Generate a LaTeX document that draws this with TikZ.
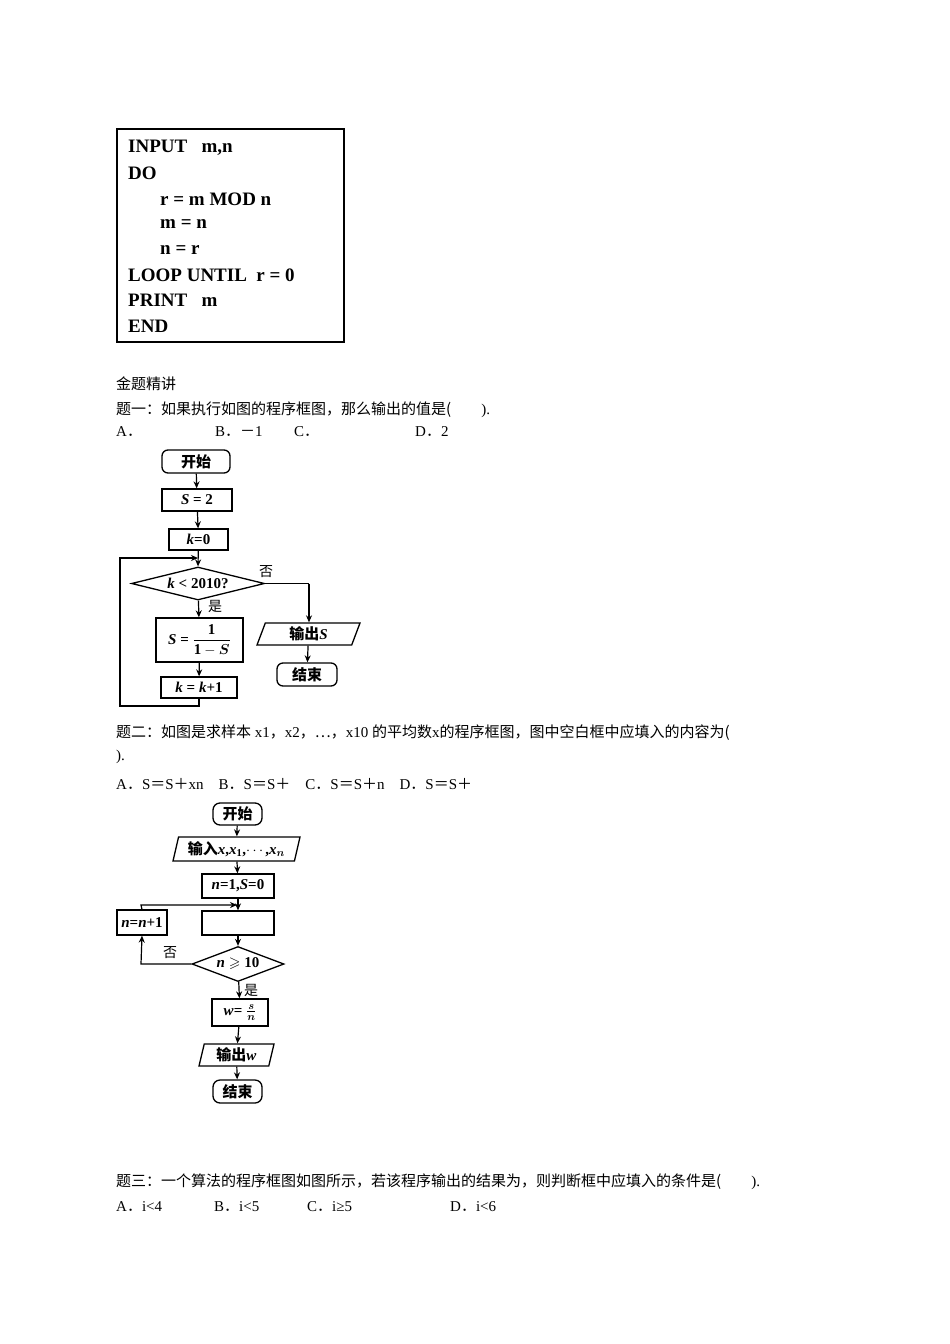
\documentclass[tikz,border=0pt]{standalone}
\usepackage{amsmath,amssymb,bm}
\usepackage{fontspec}
\setmainfont{Liberation Serif}
\newfontfamily\cjk{Noto Sans CJK SC}
\newcommand{\cj}[1]{{\cjk #1}}
\usetikzlibrary{shapes.geometric,arrows.meta}
\begin{document}
\begin{tikzpicture}[x=1pt,y=-1pt,
  txt/.style={anchor=west,inner sep=0pt,font=\fontsize{15}{18}\selectfont},
  code/.style={anchor=west,inner sep=0pt,font=\fontsize{19}{22}\selectfont\bfseries},
  fc/.style={draw,line width=1.3pt,inner sep=0pt,font=\fontsize{15}{18}\selectfont\bfseries},
  ar/.style={line width=1.2pt,-{Stealth[length=7pt,width=6pt]}},
  ln/.style={line width=1.2pt}]
\useasboundingbox (0,0) rectangle (950,1344);
% code box
\draw[line width=2.5pt] (117,129) rectangle (344,342);
\node[code] (c1) at (128,148) {INPUT\ \ \ m,n};
\node[code] (c2) at (128,173) {DO};
\node[code] (c3) at (160,199) {r = m MOD n};
\node[code] (c4) at (160,224) {m = n};
\node[code] (c5) at (160,250) {n = r};
\node[code] (c6) at (128,275) {LOOP UNTIL\ \ r = 0};
\node[code] (c7) at (128,300) {PRINT\ \ \ m};
\node[code] (c8) at (128,326) {END};
% texts
\node[txt] (t1) at (116,384) {\cj{金题精讲}};
\node[txt] (t2) at (116,410) {\cj{题一：如果执行如图的程序框图，那么输出的值是(}\qquad ).};
\node[txt] (t3a) at (116,432) {A\cj{．}};
\node[txt] (t3b) at (215,432) {B\cj{．－}1};
\node[txt] (t3c) at (294,432) {C\cj{．}};
\node[txt] (t3d) at (415,432) {D\cj{．}2};
% flowchart 1
\node[fc,rounded corners=6pt,minimum width=68pt,minimum height=23pt] (s1) at (196,461.5) {\cj{开始}};
\node[fc,minimum width=70pt,minimum height=22pt] (a1) at (197,500) {\textit{S} = 2};
\node[fc,minimum width=59pt,minimum height=21pt] (b1) at (198.5,539.5) {\textit{k}=0};
\coordinate (m1) at (198,558);
\node[fc,diamond,aspect=4,minimum width=133pt,minimum height=33pt] (d1) at (198,583.5) {\textit{k} < 2010?};
\node[fc,minimum width=87pt,minimum height=44pt] (e1) at (199.5,640) {\textit{S} = $\dfrac{\mathbf{1}}{\mathbf{1}-\bm{S}}$};
\node[fc,minimum width=76pt,minimum height=21pt] (f1) at (199,687.5) {\textit{k} = \textit{k}+1};
\node[fc,trapezium,trapezium left angle=60,trapezium right angle=120,minimum width=103pt,minimum height=22pt,trapezium stretches body] (o1) at (308.5,634) {\cj{输出}\textit{S}};
\node[fc,rounded corners=6pt,minimum width=60pt,minimum height=23pt] (z1) at (307,674.5) {\cj{结束}};
\coordinate (r1) at (309,583.5);
\coordinate (lb) at (199,706);
\coordinate (lbl) at (120,706);
\coordinate (ltl) at (120,558);
\draw[ar] (s1) -- (a1);
\draw[ar] (a1) -- (b1);
\draw[ar] (b1) -- (d1.north);
\draw[ar] (d1) -- (e1);
\draw[ar] (e1) -- (f1);
\draw[ln] (d1.east) -- (r1);
\draw[ar] (r1) -- (r1 |- o1.north);
\draw[ar] (o1) -- (z1);
\draw[ar] (f1.south) -- (lb) -- (lbl) -- (ltl) -- (m1);
\node[inner sep=0pt,font=\fontsize{14}{16}\selectfont\cjk] (no1) at (266,572) {否};
\node[inner sep=0pt,font=\fontsize{14}{16}\selectfont\cjk] (ye1) at (215,606) {是};
% text 2
\node[txt] (u1) at (116,733) {\cj{题二：如图是求样本} x1\cj{，}x2\cj{，…，}x10 \cj{的平均数}x\cj{的程序框图，图中空白框中应填入的内容为(}};
\node[txt] (u2) at (116,757) {).};
\node[txt] (u3) at (116,784) {A\cj{．}S\cj{＝}S\cj{＋}xn\quad B\cj{．}S\cj{＝}S\cj{＋}\quad C\cj{．}S\cj{＝}S\cj{＋}n\quad D\cj{．}S\cj{＝}S\cj{＋}};
% flowchart 2
\node[fc,rounded corners=7pt,minimum width=49pt,minimum height=22pt] (s2) at (237.5,814) {\cj{开始}};
\node[fc,trapezium,trapezium left angle=70,trapezium right angle=110,minimum width=127pt,minimum height=24pt,trapezium stretches body] (i2) at (236.5,849) {\cj{输入}\textit{x},\textit{x}$_{\mathbf 1}$,$\cdots$,\textit{x}$_{\bm n}$};
\node[fc,minimum width=72pt,minimum height=24pt] (a2) at (238,886) {\textit{n}=1,\textit{S}=0};
\coordinate (m2) at (237,905);
\node[fc,minimum width=72pt,minimum height=24pt] (b2) at (238,923) {};
\node[fc,diamond,aspect=2.6,minimum width=92pt,minimum height=35pt] (d2) at (238,964) {\textit{n} $\geqslant$ 10};
\node[fc,minimum width=50pt,minimum height=25pt] (n2) at (142,922.5) {\textit{n}=\textit{n}+1};
\node[fc,minimum width=56pt,minimum height=27pt] (w2) at (240,1012.5) {\textit{w}= $\frac{\bm s}{\bm n}$};
\node[fc,trapezium,trapezium left angle=70,trapezium right angle=110,minimum width=75pt,minimum height=22pt,trapezium stretches body] (o2) at (236.5,1055) {\cj{输出}\textit{w}};
\node[fc,rounded corners=7pt,minimum width=49pt,minimum height=23pt] (z2) at (237.5,1091.5) {\cj{结束}};
\coordinate (lc) at (141,964);
\coordinate (lt) at (141,905);
\draw[ar] (s2) -- (i2);
\draw[ar] (i2) -- (a2);
\draw[ar] (a2) -- (b2);
\draw[ar] (b2) -- (d2);
\draw[ar] (d2) -- (w2);
\draw[ar] (w2) -- (o2);
\draw[ar] (o2) -- (z2);
\draw[ar] (d2.west) -- (lc) -- (n2.south);
\draw[ar] (n2.north) -- (lt) -- (m2);
\node[inner sep=0pt,font=\fontsize{14}{16}\selectfont\cjk] (no2) at (170,953) {否};
\node[inner sep=0pt,font=\fontsize{14}{16}\selectfont\cjk] (ye2) at (251,990) {是};
% text 3
\node[txt] (v1) at (116,1182) {\cj{题三：一个算法的程序框图如图所示，若该程序输出的结果为，则判断框中应填入的条件是(}\qquad ).};
\node[txt] (v2a) at (116,1207) {A\cj{．}i<4};
\node[txt] (v2b) at (214,1207) {B\cj{．}i<5};
\node[txt] (v2c) at (307,1207) {C\cj{．}i≥5};
\node[txt] (v2d) at (450,1207) {D\cj{．}i<6};
\end{tikzpicture}
\end{document}
